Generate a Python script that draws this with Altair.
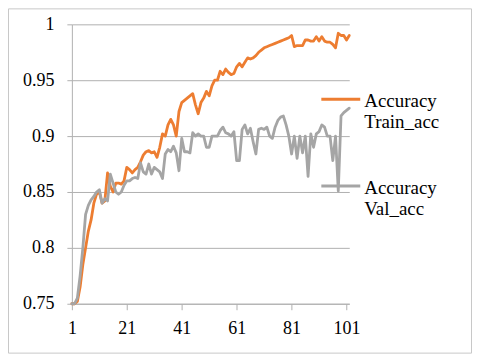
import altair as alt
import pandas as pd

# ---- data ----
epochs = list(range(1, 103))
train_acc = [
    0.750, 0.750, 0.752, 0.765, 0.785, 0.800, 0.815, 0.825, 0.840, 0.848,
    0.850, 0.840, 0.842, 0.867, 0.855, 0.850, 0.858, 0.858, 0.857, 0.860,
    0.872, 0.870, 0.867, 0.870, 0.872, 0.877, 0.883, 0.886, 0.887, 0.885,
    0.886, 0.881, 0.890, 0.902, 0.900, 0.910, 0.915, 0.910, 0.900, 0.922,
    0.930, 0.932, 0.934, 0.936, 0.938, 0.928, 0.920, 0.930, 0.934, 0.940,
    0.936, 0.945, 0.950, 0.950, 0.958, 0.955, 0.960, 0.957, 0.955, 0.956,
    0.962, 0.965, 0.962, 0.966, 0.970, 0.969, 0.970, 0.972, 0.975, 0.977,
    0.979, 0.980, 0.981, 0.982, 0.983, 0.984, 0.985, 0.986, 0.987, 0.988,
    0.990, 0.980, 0.981, 0.981, 0.981, 0.986, 0.986, 0.985, 0.985, 0.989,
    0.985, 0.989, 0.985, 0.984, 0.984, 0.982, 0.979, 0.992, 0.990, 0.990,
    0.986, 0.990,
]
val_acc = [
    0.750, 0.750, 0.755, 0.775, 0.800, 0.830, 0.838, 0.843, 0.846, 0.850,
    0.852, 0.840, 0.844, 0.842, 0.866, 0.858, 0.850, 0.848, 0.850, 0.856,
    0.860, 0.860, 0.862, 0.863, 0.862, 0.876, 0.868, 0.866, 0.875, 0.866,
    0.872, 0.870, 0.868, 0.862, 0.884, 0.888, 0.886, 0.891, 0.885, 0.869,
    0.898, 0.886, 0.886, 0.885, 0.903, 0.900, 0.902, 0.900, 0.900, 0.890,
    0.890, 0.900, 0.900, 0.900, 0.905, 0.908, 0.903, 0.902, 0.900, 0.904,
    0.878, 0.878, 0.906, 0.910, 0.902, 0.907, 0.895, 0.884, 0.906, 0.907,
    0.906, 0.908, 0.900, 0.898, 0.908, 0.914, 0.917, 0.918, 0.910, 0.900,
    0.884, 0.900, 0.880, 0.900, 0.885, 0.900, 0.864, 0.902, 0.890, 0.902,
    0.904, 0.910, 0.908, 0.900, 0.900, 0.878, 0.900, 0.851, 0.918, 0.921,
    0.923, 0.925,
]
series_names = ["Accuracy Train_acc", "Accuracy Val_acc"]
legend_labels = ["Accuracy\nTrain_acc", "Accuracy\nVal_acc"]
colors = ["#ED7D31", "#A5A5A5"]
x_ticks = [1, 21, 41, 61, 81, 101]
y_ticks = [0.75, 0.8, 0.85, 0.9, 0.95, 1.0]

FONT = "Liberation Serif"
GRID = "#B0B0B0"

df = pd.concat([
    pd.DataFrame({"epoch": epochs, "acc": train_acc, "series": series_names[0]}),
    pd.DataFrame({"epoch": epochs, "acc": val_acc, "series": series_names[1]}),
])
legend_df = pd.DataFrame({"series": series_names, "label": legend_labels})
color_scale = alt.Scale(domain=series_names, range=colors)

W, H = 278, 280
PAD = {"left": 64, "top": 16, "right": 123, "bottom": 50}

border = alt.Chart(pd.DataFrame({"k": [0]})).mark_rect(
    fillOpacity=0, stroke="#C8C8C8", strokeWidth=1
).encode(
    x=alt.value(-63.5), x2=alt.value(400.5),
    y=alt.value(-15.5), y2=alt.value(329.5),
)

lines = alt.Chart(df).mark_line(strokeWidth=2.8, strokeJoin="round", strokeCap="round").encode(
    x=alt.X("epoch:Q",
            scale=alt.Scale(domain=[1, 102], nice=False, zero=False),
            axis=alt.Axis(values=x_ticks, grid=False, tickSize=6, labelPadding=10,
                          title=None, labelFlush=False, domainColor=GRID, tickColor=GRID,
                          labelFont=FONT, labelFontSize=18, labelColor="#000000")),
    y=alt.Y("acc:Q",
            scale=alt.Scale(domain=[0.75, 1.0], nice=False, zero=False),
            axis=alt.Axis(values=y_ticks, format=".2~f", grid=True, gridColor=GRID,
                          tickSize=5, labelPadding=13, title=None, labelFlush=False,
                          domainColor=GRID, tickColor=GRID,
                          labelFont=FONT, labelFontSize=18, labelColor="#000000")),
    color=alt.Color("series:N", scale=color_scale, legend=None),
)

layers = [border, lines]
for i, name in enumerate(series_names):
    sub = legend_df[legend_df["series"] == name]
    step = 87 * i
    layers.append(
        alt.Chart(sub).mark_rule(strokeWidth=3).encode(
            x=alt.value(250), x2=alt.value(289), y=alt.value(75 + step),
            color=alt.Color("series:N", scale=color_scale, legend=None),
        )
    )
    layers.append(
        alt.Chart(sub).mark_text(
            align="left", baseline="alphabetic", lineBreak="\n", lineHeight=21,
            font=FONT, fontSize=19, color="#000000",
        ).encode(
            x=alt.value(293), y=alt.value(83 + step), text="label:N",
        )
    )

chart = alt.layer(*layers).properties(
    width=W, height=H,
    autosize=alt.AutoSizeParams(type="none"),
    padding=PAD,
).configure(font=FONT).configure_axis(
    labelFont=FONT, labelFontSize=18, labelColor="#000000"
).configure_view(strokeWidth=0)

chart.save("out.html", embed_options={"renderer": "svg", "actions": False})
